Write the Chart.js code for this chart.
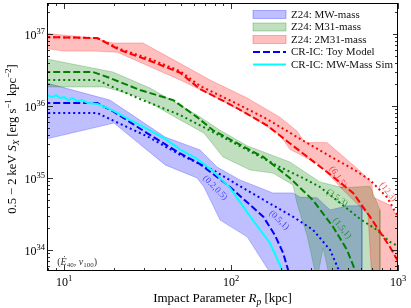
<!DOCTYPE html>
<html>
<head>
<meta charset="utf-8">
<script src="https://cdn.jsdelivr.net/npm/chart.js@4.4.0/dist/chart.umd.min.js"></script>
<style>
	html, body { margin: 0; padding: 0; background: #fff; }
	canvas { display: block; }
</style>
</head>
<body>
<canvas id="SX_Plot" width="411" height="308"></canvas>
<script>

// Z24 bands, [R_p (kpc), S_X]; upper edge then lower edge, both left to right
const mw_upper = [[7.5,2.15e36],[18.8,1.21e36],[40.3,3.7e35],[65.2,2.45e35],[82.4,1.42e35],[113,9.4e34],[178,6.2e34],[235,6.2e34],[259,5.4e34],[327,5.3e34],[392,3.6e34],[502,4.1e34],[608,4.1e34],[608,3.8e33]];
const mw_lower = [[7.5,3.4e35],[19.9,5.8e35],[40.3,1.52e35],[62.6,1.0e35],[68.9,7.5e34],[86.0,2.6e34],[125,1.52e34],[183,3.8e33]];

const m31_upper = [[7.5,4.6e36],[19.6,2.97e36],[32.7,1.78e36],[62.6,7.5e35],[86.0,4.6e35],[125,2.8e35],[225,1.67e35],[341,8.8e34],[469,7.3e34],[679,7.7e34],[780,3.6e34],[780,3.8e33]];
const m31_lower = [[7.5,1.84e36],[17.4,1.84e36],[28.5,1.33e36],[49.5,6.4e35],[68.9,4.2e35],[89.5,1.96e35],[130,1.29e35],[178,1.17e35],[235,8.0e34],[248,4.5e34],[285,1.61e34],[327,3.8e33],[356,1.07e34],[392,3.8e33]];

const m31x2_upper = [[7.5,1.03e37],[14.9,8.8e36],[19.6,7.5e36],[29.7,7.5e36],[51.6,3.7e36],[74.8,2.3e36],[125,1.29e36],[196,7.0e35],[248,4.5e35],[277,3.1e35],[376,3.1e35],[592,1.25e35],[698,8.5e34],[708,5.4e34],[895,4.2e34],[986,2.9e34],[1100,2.9e34],[1100,3.8e33]];
const m31x2_lower = [[7.5,6.4e36],[9.9,5.8e36],[14.9,5.8e36],[20.8,5.6e36],[49.5,2.3e36],[78.0,1.38e36],[125,7.7e35],[196,4.0e35],[225,2.5e35],[341,1.52e35],[469,6.8e34],[661,3.1e34],[698,3.8e33]];

// CR-IC toy model curves
const blue_dash = [[7.5,1.10e36],[15.8,1.10e36],[19.9,8.3e35],[31.4,4.2e35],[49.5,2.2e35],[65.2,1.56e35],[98.6,7.5e34],[156,2.9e34],[183,1.61e34],[205,9.1e33],[229,3.8e33]];
const blue_dot = [[7.5,8.0e35],[15.8,8.0e35],[19.9,6.2e35],[31.4,3.8e35],[49.5,2.1e35],[78.0,1.29e35],[113,7.7e34],[171,4.4e34],[235,2.9e34],[310,1.9e34],[392,1.0e34],[482,3.3e33]];
const green_dash = [[7.5,2.97e36],[14.9,2.97e36],[18.8,2.45e36],[28.5,1.67e36],[45.0,1.21e36],[62.6,7.0e35],[78.0,4.6e35],[113,2.9e35],[156,1.96e35],[225,1.0e35],[310,4.9e34],[408,2.1e34],[495,1.0e34],[580,4.0e33]];
const green_dot = [[7.5,2.3e36],[15.8,2.3e36],[20.8,1.72e36],[28.5,1.25e36],[49.5,7.5e35],[71.8,4.8e35],[125,2.45e35],[196,1.42e35],[270,1.0e35],[341,7.5e34],[450,4.5e34],[592,2.7e34],[748,1.9e34],[895,1.29e34],[1028,1.10e34]];
const red_dash = [[7.5,9.1e36],[15.8,8.8e36],[21.6,6.0e36],[31.4,4.4e36],[49.5,2.9e36],[65.2,1.72e36],[103,1.0e36],[164,5.4e35],[235,2.8e35],[376,1.21e35],[538,6.2e34],[679,2.9e34],[895,1.10e34],[1028,6.2e33]];
const red_dot = [[7.5,9.1e36],[15.8,8.8e36],[21.6,6.2e36],[32.7,4.5e36],[49.5,3.06e36],[65.2,1.9e36],[103,1.14e36],[164,6.6e35],[259,3.5e35],[392,2.0e35],[538,1.33e35],[679,9.4e34],[859,5.4e34],[1028,2.6e34]];

// CR-IC MW-mass simulation
const cyan_sim = [[7.9,1.42e36],[8.5,1.33e36],[8.95,1.42e36],[9.5,1.29e36],[10,1.33e36],[10.6,1.21e36],[11.2,1.29e36],[12.0,1.17e36],[12.8,1.21e36],[13.9,1.10e36],[15.8,1.07e36],[17.6,9.7e35],[19.9,8.5e35],[24.8,6.4e35],[31.4,4.8e35],[40.3,3.5e35],[49.5,2.5e35],[62.6,1.84e35],[78.0,1.25e35],[98.6,7.3e34],[135,2.6e34],[171,1.25e34],[216,3.8e33]];

// curve labels (E_40, v_100)
const anno_text = ['(0.2,0.5)', '(0.5,1)', '(3.5,3)', '(1.5,1)', '(6,1.5)', '(12,3)'];
const anno_R = [80.2, 194, 431, 462, 437, 871];
const anno_S = [7.3e34, 2.6e34, 5.3e34, 2.0e34, 1.03e35, 6.4e34];

const legend_labels = ['Z24: MW-mass', 'Z24: M31-mass', 'Z24: 2M31-mass', 'CR-IC: Toy Model', 'CR-IC: MW-Mass Sim'];
const x_tick_exp = [1, 2, 3];
const y_tick_exp = [34, 35, 36, 37];

const R_min = 7.9, R_max = 1000;
const S_min = 5.1e33, S_max = 2.7e37;


const BLUE = 'rgb(0,0,255)';
const GREEN = 'rgb(0,128,0)';
const RED = 'rgb(255,0,0)';
const CYAN = 'rgb(0,255,255)';
const SERIF = '"Liberation Serif", "DejaVu Serif", serif';

function font(size, italic) {
	return (italic ? 'italic ' : '') + size + 'px ' + SERIF;
}

function pts(arr) {
	return arr.map(p => ({x: p[0], y: p[1]}));
}

function band(upper, lower) {
	return pts(upper.concat(lower.slice().reverse()));
}

function bandSet(upper, lower, rgb, order) {
	return {
		data: band(upper, lower),
		showLine: true,
		fill: 'shape',
		backgroundColor: 'rgba(' + rgb + ',0.25)',
		borderColor: 'rgba(' + rgb + ',0.3)',
		borderWidth: 0.8,
		pointRadius: 0,
		order: order,
	};
}

function lineSet(arr, color, dash, order) {
	return {
		data: pts(arr),
		showLine: true,
		fill: false,
		borderColor: color,
		borderWidth: 2,
		borderDash: dash,
		borderCapStyle: 'butt',
		pointRadius: 0,
		order: order,
	};
}

// draw a run of text pieces (sub/superscripts, italics) side by side
function drawParts(ctx, parts, x, y, align) {
	let total = 0;
	parts.forEach(p => { ctx.font = p.f; p.w = ctx.measureText(p.t).width; total += p.w; });
	let cx = align === 'center' ? x - total / 2 : (align === 'right' ? x - total : x);
	ctx.textAlign = 'left';
	ctx.textBaseline = 'alphabetic';
	parts.forEach(p => { ctx.font = p.f; ctx.fillText(p.t, cx, y + (p.dy || 0)); cx += p.w; });
}

const decor = {
	id: 'decor',
	afterDatasetsDraw(chart) {
		const {ctx, chartArea: a, scales: {x, y}} = chart;
		ctx.save();

		// inward ticks on all four sides
		ctx.strokeStyle = '#000';
		ctx.lineWidth = 0.8;
		ctx.beginPath();
		for (let e = 0; e <= 3; e++) {
			for (let m = 1; m <= 9; m++) {
				const v = m * Math.pow(10, e);
				if (v < R_min || v > R_max) continue;
				const px = Math.round(x.getPixelForValue(v)) + 0.5;
				const len = m === 1 ? 6 : 3;
				ctx.moveTo(px, a.bottom); ctx.lineTo(px, a.bottom - len);
				ctx.moveTo(px, a.top); ctx.lineTo(px, a.top + len);
			}
		}
		for (let e = 33; e <= 37; e++) {
			for (let m = 1; m <= 9; m++) {
				const v = m * Math.pow(10, e);
				if (v < S_min || v > S_max) continue;
				const py = Math.round(y.getPixelForValue(v)) + 0.5;
				const len = m === 1 ? 6 : 3;
				ctx.moveTo(a.left, py); ctx.lineTo(a.left + len, py);
				ctx.moveTo(a.right, py); ctx.lineTo(a.right - len, py);
			}
		}
		ctx.stroke();
		ctx.lineWidth = 1;
		ctx.strokeRect(a.left + 0.5, a.top + 0.5, a.right - a.left - 1, a.bottom - a.top - 1);

		// tick labels
		ctx.fillStyle = '#000';
		x_tick_exp.forEach(e => {
			const px = x.getPixelForValue(Math.pow(10, e));
			drawParts(ctx, [{t: '10', f: font(12)}, {t: String(e), f: font(8.5), dy: -5}], px, a.bottom + 15, 'center');
		});
		y_tick_exp.forEach(e => {
			const py = y.getPixelForValue(Math.pow(10, e));
			drawParts(ctx, [{t: '10', f: font(12)}, {t: String(e), f: font(8.5), dy: -5}], a.left - 2, py + 5, 'right');
		});

		// axis titles
		drawParts(ctx, [
			{t: 'Impact Parameter ', f: font(13)},
			{t: 'R', f: font(13, true)},
			{t: 'p', f: font(9.5, true), dy: 2.5},
			{t: ' [kpc]', f: font(13)},
		], (a.left + a.right) / 2, 302, 'center');

		ctx.save();
		ctx.translate(16, (a.top + a.bottom) / 2 + 2);
		ctx.rotate(-Math.PI / 2);
		drawParts(ctx, [
			{t: '0.5 \u2212 2 keV ', f: font(12.5)},
			{t: 'S', f: font(12.5, true)},
			{t: 'X', f: font(9, true), dy: 2.5},
			{t: ' [erg s', f: font(12.5)},
			{t: '\u22121', f: font(9), dy: -5},
			{t: ' kpc', f: font(12.5)},
			{t: '\u22122', f: font(9), dy: -5},
			{t: ']', f: font(12.5)},
		], 0, 0, 'center');
		ctx.restore();

		// curve labels
		const anno_color = ['rgba(0,0,255,0.7)', 'rgba(0,0,255,0.7)', 'rgba(0,128,0,0.75)', 'rgba(0,128,0,0.75)', 'rgba(255,0,0,0.7)', 'rgba(255,0,0,0.7)'];
		const anno_angle = [45, 43, 35, 50, 56, 52];
		anno_text.forEach((txt, i) => {
			ctx.save();
			ctx.translate(x.getPixelForValue(anno_R[i]), y.getPixelForValue(anno_S[i]));
			ctx.rotate(anno_angle[i] * Math.PI / 180);
			ctx.fillStyle = anno_color[i];
			ctx.font = font(9);
			ctx.textAlign = 'center';
			ctx.textBaseline = 'middle';
			ctx.fillText(txt, 0, 0);
			ctx.restore();
		});

		ctx.fillStyle = '#333';
		drawParts(ctx, [
			{t: '(', f: font(10)},
			{t: '\u0116', f: font(10, true)},
			{t: '40', f: font(7), dy: 2},
			{t: ', ', f: font(10)},
			{t: 'v', f: font(10, true)},
			{t: '100', f: font(7), dy: 2},
			{t: ')', f: font(10)},
		], x.getPixelForValue(9.1), y.getPixelForValue(6.8e33) + 3, 'left');

		// legend
		ctx.fillStyle = '#fff';
		ctx.fillRect(249, a.top + 1, 144, 68);
		const rows = [14.5, 27, 39.5, 52, 64.5];
		const patch = [['0,0,255', 0], ['0,128,0', 1], ['255,0,0', 2]];
		patch.forEach(([rgb, i]) => {
			ctx.fillStyle = 'rgba(' + rgb + ',0.25)';
			ctx.strokeStyle = 'rgba(' + rgb + ',0.35)';
			ctx.lineWidth = 0.8;
			ctx.fillRect(253, rows[i] - 4, 33, 8);
			ctx.strokeRect(253, rows[i] - 4, 33, 8);
		});
		ctx.lineWidth = 2;
		ctx.strokeStyle = BLUE;
		ctx.setLineDash([7, 3]);
		ctx.beginPath(); ctx.moveTo(253, rows[3]); ctx.lineTo(286, rows[3]); ctx.stroke();
		ctx.setLineDash([]);
		ctx.strokeStyle = CYAN;
		ctx.beginPath(); ctx.moveTo(253, rows[4]); ctx.lineTo(286, rows[4]); ctx.stroke();
		ctx.fillStyle = '#111';
		ctx.font = font(11);
		ctx.textAlign = 'left';
		ctx.textBaseline = 'middle';
		legend_labels.forEach((lab, i) => ctx.fillText(lab, 291, rows[i] + 0.5));

		ctx.restore();
	}
};

const sx_plot = document.getElementById('SX_Plot').getContext('2d');

var SX_Plot_Obj = new Chart(sx_plot, {
	type: 'scatter',
	data: {
		datasets: [
			bandSet(mw_upper, mw_lower, '0,0,255', 9),
			bandSet(m31_upper, m31_lower, '0,128,0', 8),
			bandSet(m31x2_upper, m31x2_lower, '255,0,0', 7),
			lineSet(blue_dash, BLUE, [7, 3], 6),
			lineSet(blue_dot, BLUE, [2, 3], 5),
			lineSet(green_dash, GREEN, [7, 3], 4),
			lineSet(green_dot, GREEN, [2, 3], 3),
			lineSet(red_dash, RED, [7, 3], 2),
			lineSet(red_dot, RED, [2, 3], 1),
			lineSet(cyan_sim, CYAN, [], 0),
		]
	},
	options: {
		responsive: false,
		animation: false,
		layout: {
			padding: {left: 47, right: 13, top: 3, bottom: 37}
		},
		plugins: {
			legend: { display: false },
			tooltip: { enabled: false },
		},
		scales: {
			x: { type: 'logarithmic', min: R_min, max: R_max, display: false },
			y: { type: 'logarithmic', min: S_min, max: S_max, display: false }
		},
		events: [], // No hover
	},
	plugins: [decor]
});

</script>
</body>
</html>
